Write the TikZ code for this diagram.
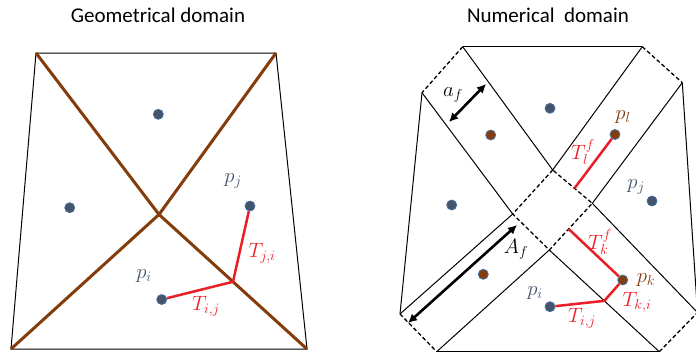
\documentclass[tikz,border=0pt]{standalone}
\usepackage{fontspec}
\setmainfont{Carlito}
\usepackage{tikz}
\usetikzlibrary{arrows.meta,calc}
\definecolor{slate}{RGB}{68,84,106}
\definecolor{rim}{RGB}{70,110,160}
\definecolor{bark}{RGB}{132,60,12}
\definecolor{tred}{RGB}{235,30,40}

\begin{document}
\begin{tikzpicture}[x=1pt,y=-1pt,
    >={Latex[length=9pt,width=9pt]},
    title/.style={font=\fontsize{21}{24}\selectfont, anchor=base, inner sep=0pt},
    side/.style={draw=black, line width=1pt},
    cut/.style={draw=black, line width=1.3pt, dash pattern=on 4pt off 2.5pt},
    face/.style={draw=bark, line width=3pt, line join=round},
    pt/.style={circle, fill=slate, draw=rim, line width=0.8pt, minimum size=10pt, inner sep=0pt},
    ptb/.style={pt, fill=bark},
    tlink/.style={draw=tred, line width=2.5pt},
    span/.style={<->, line width=2.6pt},
    plab/.style={font=\fontsize{20.5}{24}\selectfont, text=slate, inner sep=0pt},
    blab/.style={plab, text=bark},
    tlab/.style={plab, text=tred}
  ]
  \useasboundingbox (0,0) rectangle (696,354);
  \node[title] (geo) at (158,22) {Geometrical domain};
  \node[title] (num) at (548,22) {Numerical\ \ domain};

  \coordinate (g1) at (36,53); \coordinate (g2) at (276,53);
  \coordinate (g3) at (307,349); \coordinate (g4) at (11,349);
  \coordinate (gc) at (159,214.5);
  \draw[side] (g1)--(g2)--(g3)--(g4)--cycle;
  \draw[face] (g1)--(gc)--(g3); \draw[face] (g2)--(gc)--(g4);
  \node[pt] (ga) at (158.3,114.3) {};
  \node[pt] (gb) at (69.7,207.7) {};
  \node[pt] (gj) at (250,206) {};
  \node[pt] (gi) at (161.7,299.5) {};
  \coordinate (gx) at ($(gc)!0.5!(g3)$);
  \draw[tlink] (gi)--(gx)--(gj);
  \node[plab] (lj) at (233,181) {$p_j$};
  \node[plab] (li) at (144,276) {$p_i$};
  \node[tlab] (tji) at (262,253) {$T_{j,i}$};
  \node[tlab] (tij) at (206,306) {$T_{i,j}$};

  \coordinate (n1) at (462.7,46.7); \coordinate (n2) at (642.3,46.7);
  \coordinate (n3) at (682.3,82.7); \coordinate (n4) at (697.5,312.5);
  \coordinate (n5) at (659.3,351.7); \coordinate (n6) at (436.7,351.7);
  \coordinate (n7) at (400,314); \coordinate (n8) at (422,92.7);
  \coordinate (dt) at (552.7,170); \coordinate (dl) at (512.7,214);
  \coordinate (dr) at (592.3,203.3); \coordinate (db) at (549.3,250);
  \draw[side] (n1)--(n2); \draw[side] (n3)--(n4);
  \draw[side] (n5)--(n6); \draw[side] (n7)--(n8);
  \draw[side] (n1)--(dt); \draw[side] (n8)--(dl);
  \draw[side] (n2)--(dt); \draw[side] (n3)--(dr);
  \draw[side] (dl)--(n7); \draw[side] (db)--(n6);
  \draw[side] (dr)--(n4); \draw[side] (db)--(n5);
  \draw[cut] (n1)--(n8); \draw[cut] (n2)--(n3);
  \draw[cut] (n7)--(n6); \draw[cut] (n5)--(n4);
  \draw[cut] (dt)--(dl)--(db)--(dr)--cycle;

  \node[pt] (na) at (550,108.3) {};
  \node[ptb] (nb) at (490.7,135) {};
  \node[ptb] (nl) at (615,134.5) {};
  \node[pt] (nj) at (652,201) {};
  \node[pt] (nc) at (451.7,205) {};
  \node[ptb] (nd) at (483.3,274.3) {};
  \node[pt] (ni) at (550,306.7) {};
  \node[ptb] (nk) at (622.7,280) {};
  \coordinate (fl) at ($(dt)!0.55!(dr)$);
  \coordinate (fk) at ($(dr)!0.55!(db)$);
  \coordinate (nx) at ($(db)!0.5!(n5)$);
  \draw[tlink] (nl)--(fl); \draw[tlink] (nk)--(fk);
  \draw[tlink] (ni)--(nx)--(nk);

  \coordinate (a1) at (449,122); \coordinate (a2) at (486,84);
  \coordinate (A1) at (408,323); \coordinate (A2) at (517,225);
  \draw[span] (a1)--(a2); \draw[span] (A1)--(A2);
  \node[plab, text=black] (af) at (453,95) {$a_f$};
  \node[plab, text=black] (Af) at (516,249) {$A_f$};
  \node[blab] (ll) at (623,117) {$p_l$};
  \node[tlab] (tlf) at (583,152) {$T_l^f$};
  \node[plab] (rj) at (636,187) {$p_j$};
  \node[tlab] (tkf) at (600,242) {$T_k^f$};
  \node[blab] (lk) at (646,280) {$p_k$};
  \node[plab] (ri) at (535,293) {$p_i$};
  \node[tlab] (tki) at (637,302) {$T_{k,i}$};
  \node[tlab] (rtij) at (582,318) {$T_{i,j}$};
\end{tikzpicture}
\end{document}
